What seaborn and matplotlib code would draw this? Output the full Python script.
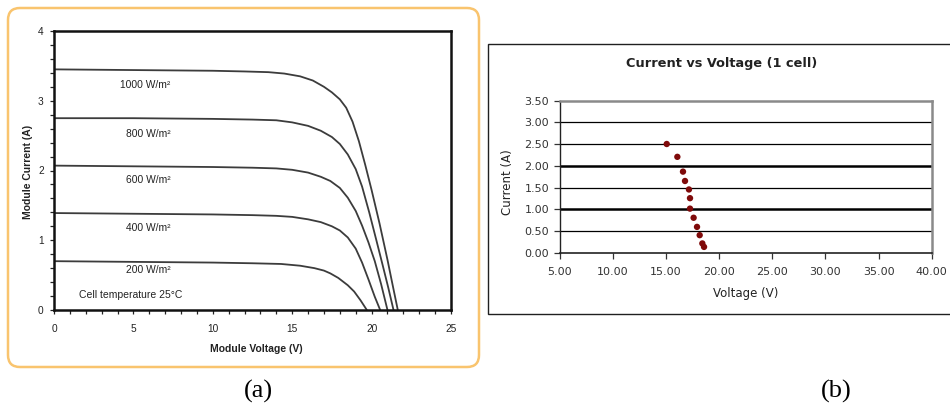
import matplotlib
matplotlib.use("Agg")
import matplotlib.pyplot as plt
from matplotlib.patches import FancyBboxPatch, Rectangle
import seaborn as sns
import pandas as pd

# ---------------- data: panel (a) I-V curves ----------------
irradiance_labels = ["1000 W/m²", "800 W/m²", "600 W/m²", "400 W/m²", "200 W/m²"]

v_1000 = [0, 5, 10, 12, 13.5, 14.5, 15.5, 16.3, 17.0, 17.5, 18.0, 18.4, 18.8, 19.2, 19.6, 20.0, 20.5, 21.0, 21.35, 21.65]
i_1000 = [3.45, 3.44, 3.43, 3.42, 3.41, 3.39, 3.35, 3.29, 3.20, 3.12, 3.02, 2.90, 2.70, 2.42, 2.08, 1.72, 1.24, 0.72, 0.33, 0.0]

v_800 = [0, 5, 10, 12.5, 14, 15, 16, 16.8, 17.5, 18.0, 18.5, 19.0, 19.4, 19.85, 20.3, 20.7, 21.05, 21.38]
i_800 = [2.75, 2.75, 2.74, 2.73, 2.72, 2.69, 2.64, 2.57, 2.48, 2.38, 2.23, 2.02, 1.77, 1.40, 1.00, 0.64, 0.32, 0.0]

v_600 = [0, 5, 10, 12.5, 14, 15, 16, 16.8, 17.4, 18.0, 18.5, 19.0, 19.4, 19.8, 20.2, 20.6, 21.0]
i_600 = [2.07, 2.06, 2.05, 2.04, 2.03, 2.01, 1.97, 1.91, 1.85, 1.75, 1.61, 1.42, 1.21, 0.97, 0.70, 0.37, 0.0]

v_400 = [0, 5, 10, 12.5, 14, 15, 16, 16.8, 17.5, 18.0, 18.5, 19.0, 19.4, 19.8, 20.2, 20.54]
i_400 = [1.39, 1.38, 1.37, 1.36, 1.35, 1.335, 1.30, 1.26, 1.20, 1.14, 1.04, 0.88, 0.68, 0.44, 0.19, 0.0]

v_200 = [0, 5, 10, 12.5, 14.3, 15.5, 16.4, 17.0, 17.4, 17.9, 18.5, 18.9, 19.3, 19.7]
i_200 = [0.70, 0.69, 0.68, 0.67, 0.66, 0.635, 0.60, 0.565, 0.525, 0.46, 0.355, 0.265, 0.14, 0.0]

label_v = [7.35, 7.35, 7.35, 7.35, 7.35]
label_i = [3.22, 2.53, 1.86, 1.18, 0.57]

left_xticks = [0, 5, 10, 15, 20, 25]
left_yticks = [0, 1, 2, 3, 4]

# ---------------- data: panel (b) measured points ----------------
cell_voltage = [15.07, 16.07, 16.60, 16.79, 17.16, 17.26, 17.26, 17.60, 17.92, 18.17, 18.42, 18.58]
cell_current = [2.505, 2.21, 1.87, 1.655, 1.46, 1.26, 1.02, 0.81, 0.60, 0.41, 0.22, 0.14]

right_xticks = [5, 10, 15, 20, 25, 30, 35, 40]
right_yticks = [0.0, 0.5, 1.0, 1.5, 2.0, 2.5, 3.0, 3.5]

# ---------------- build long-form table for seaborn ----------------
curves = [(v_1000, i_1000), (v_800, i_800), (v_600, i_600), (v_400, i_400), (v_200, i_200)]
rows = []
for lab, (vs, cs) in zip(irradiance_labels, curves):
    for v, c in zip(vs, cs):
        rows.append({"Voltage": v, "Current": c, "Irradiance": lab})
df_iv = pd.DataFrame(rows)
df_cell = pd.DataFrame({"Voltage": cell_voltage, "Current": cell_current})

sns.set_theme(style="white")
plt.rcParams["font.family"] = ["Liberation Sans", "DejaVu Sans"]

W, H = 950, 407
fig = plt.figure(figsize=(W / 100, H / 100), dpi=100)

def px_axes(l, t, r, b):
    return fig.add_axes([l / W, 1 - b / H, (r - l) / W, (b - t) / H])

# background overlay in pixel coordinates (orange rounded frame, panel b frame)
bg = fig.add_axes([0, 0, 1, 1], zorder=-10)
bg.set_xlim(0, W)
bg.set_ylim(H, 0)
bg.axis("off")
bg.add_patch(FancyBboxPatch((8, 8), 471, 359, boxstyle="round,pad=0,rounding_size=12",
                            fc="white", ec="#f9c46e", lw=1.8))
bg.add_patch(Rectangle((488, 43.5), 480, 270.5, fc="white", ec="#202020", lw=1.0))

# ---------------- panel (a) ----------------
ax1 = px_axes(54, 31, 451, 310)
sns.lineplot(data=df_iv, x="Voltage", y="Current", hue="Irradiance", sort=False,
             palette=["#3c3c3c"] * 5, linewidth=1.3, legend=False, ax=ax1,
             estimator=None, solid_joinstyle="round")
ax1.set_xlim(0, 25)
ax1.set_ylim(0, 4)
ax1.set_xticks(left_xticks)
ax1.set_yticks(left_yticks)
ax1.set_xticks([x for x in range(0, 26)], minor=True)
ax1.set_yticks([k * 0.2 for k in range(0, 21)], minor=True)
ax1.tick_params(axis="both", which="both", direction="out", length=3, width=0.9,
                colors="#222222", labelsize=7.3, bottom=True, left=True)
ax1.tick_params(axis="x", which="major", pad=7.0)
ax1.tick_params(axis="y", which="major", pad=4.5)
for s in ax1.spines.values():
    s.set_color("#111111")
    s.set_linewidth(1.8)
ax1.set_xlabel("Module Voltage (V)", fontsize=7.5, fontweight="bold", color="#222222")
ax1.set_ylabel("Module Current (A)", fontsize=7.5, fontweight="bold", color="#222222")
ax1.xaxis.label.set_va("center")
ax1.xaxis.set_label_coords(0.51, -0.141)
ax1.yaxis.label.set_va("center")
ax1.yaxis.set_label_coords(-0.065, 0.495)
for lab, lx, ly in zip(irradiance_labels, label_v, label_i):
    ax1.text(lx, ly, lab, ha="right", va="center", fontsize=7.4, color="#222222")
ax1.text(1.56, 0.21, "Cell temperature 25°C", ha="left", va="center", fontsize=7.5,
         color="#222222")

# ---------------- panel (b) ----------------
rfont = ["DejaVu Sans"]
ax2 = px_axes(559.7, 100.7, 931.7, 253)
sns.scatterplot(data=df_cell, x="Voltage", y="Current", color="#7f0a0a", s=21,
                edgecolor="none", ax=ax2, zorder=3)
ax2.set_xlim(5, 40)
ax2.set_ylim(0, 3.5)
ax2.set_xticks(right_xticks)
ax2.set_yticks(right_yticks)
ax2.set_xticklabels([f"{v:.2f}" for v in right_xticks], family=rfont)
ax2.set_yticklabels([f"{v:.2f}" for v in right_yticks], family=rfont)
for gy in right_yticks[1:-1]:
    lw = 1.8 if gy in (1.0, 2.0) else 0.9
    ax2.axhline(gy, color="black", lw=lw, zorder=1)
ax2.tick_params(axis="both", which="major", direction="out", length=4, width=0.9,
                colors="#333333", labelsize=8, bottom=True, left=True)
ax2.tick_params(axis="x", pad=6)
ax2.tick_params(axis="y", pad=3.5)
ax2.spines["top"].set_color("#8a8a8a")
ax2.spines["right"].set_color("#8a8a8a")
ax2.spines["top"].set_linewidth(1.8)
ax2.spines["right"].set_linewidth(1.8)
ax2.spines["left"].set_color("#222222")
ax2.spines["bottom"].set_color("#222222")
ax2.spines["left"].set_linewidth(1.0)
ax2.spines["bottom"].set_linewidth(1.2)
ax2.set_xlabel("Voltage (V)", fontsize=8.5, color="#222222", family=rfont)
ax2.set_ylabel("Current (A)", fontsize=8.5, color="#222222", family=rfont)
ax2.xaxis.label.set_va("center")
ax2.xaxis.set_label_coords(0.5, -0.263)
ax2.yaxis.label.set_va("center")
ax2.yaxis.set_label_coords(-0.139, 0.468)
ax2.text(0.436, 1.246, "Current vs Voltage (1 cell)", transform=ax2.transAxes,
         ha="center", va="center", fontsize=9.3, fontweight="bold", color="#222222",
         family=rfont)

# ---------------- captions ----------------
fig.text(258 / W, 1 - 391 / H, "(a)", ha="center", va="center", fontsize=19,
         family="Liberation Serif", color="black")
fig.text(836 / W, 1 - 391 / H, "(b)", ha="center", va="center", fontsize=19,
         family="Liberation Serif", color="black")

fig.savefig("out.png", dpi=100, facecolor="white")
